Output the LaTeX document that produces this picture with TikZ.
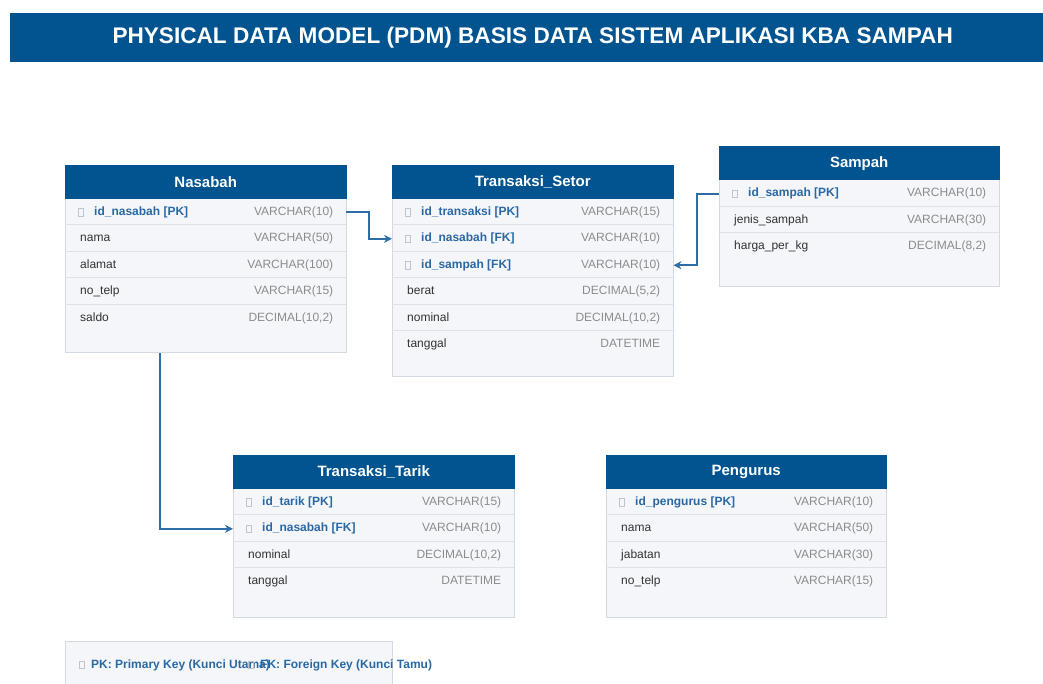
\documentclass[tikz,border=0pt]{standalone}
\usepackage{fontspec}
\setmainfont{Liberation Sans}
\usetikzlibrary{arrows.meta,calc}
\definecolor{hdrblue}{HTML}{01548F}
\definecolor{keyblue}{HTML}{2A68A3}
\definecolor{linkblue}{HTML}{2E6EA6}
\definecolor{bodyfill}{HTML}{F4F6FA}
\definecolor{bodyborder}{HTML}{D2D9E2}
\definecolor{sepcolor}{HTML}{DDE2E9}
\definecolor{typegray}{HTML}{8C8C8C}
\definecolor{fieldtext}{HTML}{333333}
\definecolor{iconborder}{HTML}{BCC5D0}
\tikzset{
  hdr/.style={fill=hdrblue, draw=hdrblue, text=white, font=\fontsize{15}{18}\selectfont\bfseries,
    inner sep=0, anchor=north west, minimum height=33},
  bodybox/.style={fill=bodyfill, draw=bodyborder, line width=0.8, inner sep=0, anchor=north west},
  rowbox/.style={inner sep=0, minimum height=26.4, anchor=north west},
  fname/.style={font=\fontsize{12}{14}\selectfont, text=fieldtext, inner sep=0, anchor=west,
    text height=8.8, text depth=2.6},
  kname/.style={font=\fontsize{12}{14}\selectfont\bfseries, text=keyblue, inner sep=0, anchor=west,
    text height=8.8, text depth=2.6},
  ftype/.style={font=\fontsize{12}{14}\selectfont, text=typegray, inner sep=0, anchor=east,
    text height=8.8, text depth=2.6},
  keyicon/.style={draw=iconborder, line width=0.7, minimum width=5.5, minimum height=7.5, inner sep=0},
  sep/.style={draw=sepcolor, line width=0.8},
  link/.style={draw=linkblue, line width=2, -{Stealth[length=8,width=8]}},
  legtext/.style={font=\fontsize{12}{14}\selectfont\bfseries, text=keyblue, inner sep=0, anchor=west,
    text height=8.8, text depth=2.6},
}
\newcommand\krow[6]{%
  \node[rowbox, minimum width=#4] (#1) at (#2,#3) {};
  \node[keyicon] (#1-i) at ($(#1.west)+(16,1)$) {};
  \node[kname] (#1-n) at ($(#1.west)+(29,1)$) {#5};
  \node[ftype] (#1-t) at ($(#1.east)+(-13,1)$) {#6};
}
\newcommand\frow[6]{%
  \node[rowbox, minimum width=#4] (#1) at (#2,#3) {};
  \node[fname] (#1-n) at ($(#1.west)+(15,1)$) {#5};
  \node[ftype] (#1-t) at ($(#1.east)+(-13,1)$) {#6};
}
\newcommand\rowsep[1]{\draw[sep] (#1.south west) -- (#1.south east);}
\begin{document}
\begin{tikzpicture}[x=1pt,y=-1pt]
\useasboundingbox (0,0) rectangle (1043,684);
\clip (0,0) rectangle (1043,684);
\fill[white] (0,0) rectangle (1043,684);

% title bar
\node[fill=hdrblue, inner sep=0, minimum width=1045, minimum height=49, anchor=north west] (bar) at (10,13) {};
\node[font=\fontsize{22.6}{26}\selectfont\bfseries, text=white, inner sep=0] (title) at (bar.center)
  {PHYSICAL DATA MODEL (PDM) BASIS DATA SISTEM APLIKASI KBA SAMPAH};

% Nasabah
\node[bodybox, minimum width=281, minimum height=187] (nas) at (65,165) {};
\node[hdr, minimum width=281] (nas-h) at (65,165) {Nasabah};
\krow{nas-id}{65}{198}{281}{id\_nasabah [PK]}{VARCHAR(10)}
\frow{nas-nama}{65}{224.4}{281}{nama}{VARCHAR(50)}
\frow{nas-alamat}{65}{250.8}{281}{alamat}{VARCHAR(100)}
\frow{nas-telp}{65}{277.2}{281}{no\_telp}{VARCHAR(15)}
\frow{nas-saldo}{65}{303.6}{281}{saldo}{DECIMAL(10,2)}
\rowsep{nas-id}\rowsep{nas-nama}\rowsep{nas-alamat}\rowsep{nas-telp}

% Transaksi_Setor
\node[bodybox, minimum width=281, minimum height=211] (set) at (392,165) {};
\node[hdr, minimum width=281] (set-h) at (392,165) {Transaksi\_Setor};
\krow{set-id}{392}{198}{281}{id\_transaksi [PK]}{VARCHAR(15)}
\krow{set-nas}{392}{224.4}{281}{id\_nasabah [FK]}{VARCHAR(10)}
\krow{set-sam}{392}{250.8}{281}{id\_sampah [FK]}{VARCHAR(10)}
\frow{set-berat}{392}{277.2}{281}{berat}{DECIMAL(5,2)}
\frow{set-nom}{392}{303.6}{281}{nominal}{DECIMAL(10,2)}
\frow{set-tgl}{392}{330.0}{281}{tanggal}{DATETIME}
\rowsep{set-id}\rowsep{set-nas}\rowsep{set-sam}\rowsep{set-berat}\rowsep{set-nom}

% Sampah
\node[bodybox, minimum width=280, minimum height=139.5] (sam) at (719,146.5) {};
\node[hdr, minimum width=280] (sam-h) at (719,146.5) {Sampah};
\krow{sam-id}{719}{179.5}{280}{id\_sampah [PK]}{VARCHAR(10)}
\frow{sam-jenis}{719}{205.9}{280}{jenis\_sampah}{VARCHAR(30)}
\frow{sam-harga}{719}{232.3}{280}{harga\_per\_kg}{DECIMAL(8,2)}
\rowsep{sam-id}\rowsep{sam-jenis}

% Transaksi_Tarik
\node[bodybox, minimum width=281, minimum height=162] (tar) at (233,455) {};
\node[hdr, minimum width=281] (tar-h) at (233,455) {Transaksi\_Tarik};
\krow{tar-id}{233}{488}{281}{id\_tarik [PK]}{VARCHAR(15)}
\krow{tar-nas}{233}{514.4}{281}{id\_nasabah [FK]}{VARCHAR(10)}
\frow{tar-nom}{233}{540.8}{281}{nominal}{DECIMAL(10,2)}
\frow{tar-tgl}{233}{567.2}{281}{tanggal}{DATETIME}
\rowsep{tar-id}\rowsep{tar-nas}\rowsep{tar-nom}

% Pengurus
\node[bodybox, minimum width=280, minimum height=162] (pen) at (606,455) {};
\node[hdr, minimum width=280] (pen-h) at (606,455) {Pengurus};
\krow{pen-id}{606}{488}{280}{id\_pengurus [PK]}{VARCHAR(10)}
\frow{pen-nama}{606}{514.4}{280}{nama}{VARCHAR(50)}
\frow{pen-jab}{606}{540.8}{280}{jabatan}{VARCHAR(30)}
\frow{pen-telp}{606}{567.2}{280}{no\_telp}{VARCHAR(15)}
\rowsep{pen-id}\rowsep{pen-nama}\rowsep{pen-jab}

% connectors
\draw[link] ($(nas-id.east)+(0,1)$) -- ++(23,0) |- ($(set-nas.west)+(0,1)$);
\draw[link] ($(sam-id.west)+(0,1)$) -- ++(-22,0) |- ($(set-sam.east)+(0,1)$);
\coordinate (nas-out) at ($(nas.south west)+(95,0)$);
\draw[link] (nas-out) |- ($(tar-nas.west)+(0,1)$);

% legend
\node[bodybox, minimum width=327, minimum height=60] (leg) at (65,641) {};
\node[keyicon] (leg-pki) at (82,665) {};
\node[legtext] (leg-pk) at (91,665) {PK: Primary Key (Kunci Utama)};
\node[keyicon] (leg-fki) at (251,665) {};
\node[legtext] (leg-fk) at (260,665) {FK: Foreign Key (Kunci Tamu)};
\end{tikzpicture}
\end{document}
